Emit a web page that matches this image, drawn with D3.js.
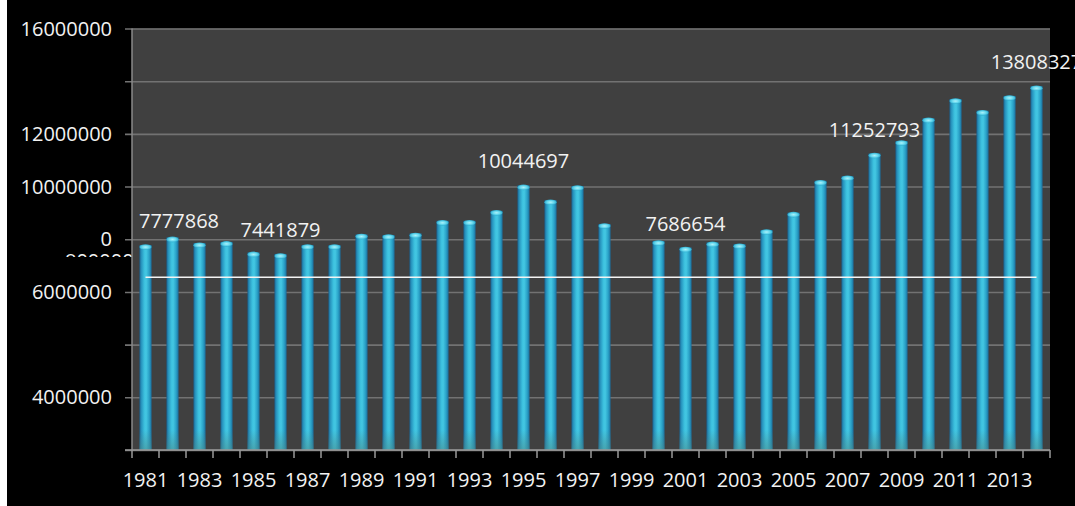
<html>
	<head>
		<script src="https://d3js.org/d3.v7.min.js"></script>
		<style>
			body { margin: 0; background: #000; }
			svg { display: block; }
		</style>
	</head>
	<body>
		<svg width="1075" height="506"></svg>
		<script>

		// categories and values (1999 has no bar)
		var years = [1981, 1982, 1983, 1984, 1985, 1986, 1987, 1988, 1989, 1990,
			1991, 1992, 1993, 1994, 1995, 1996, 1997, 1998, 1999, 2000,
			2001, 2002, 2003, 2004, 2005, 2006, 2007, 2008, 2009, 2010,
			2011, 2012, 2013, 2014];
		var values = [7777868, 8070000, 7850000, 7900000, 7500000, 7441879, 7780000, 7780000, 8180000, 8160000,
			8220000, 8700000, 8700000, 9080000, 10044697, 9480000, 10020000, 8580000, null, 7930000,
			7686654, 7880000, 7810000, 8350000, 9010000, 10220000, 10390000, 11252793, 11730000, 12590000,
			13320000, 12880000, 13440000, 13808327];
		var labelYears = [1981, 1986, 1995, 2001, 2008, 2014];
		var refLineValue = 6560000;
		var yGridValues = [0, 2000000, 4000000, 6000000, 8000000, 10000000, 12000000, 14000000, 16000000];
		var yTickValues = [16000000, 12000000, 10000000, 8000000, 6000000, 2000000];
		var yTickLabels = ["16000000", "12000000", "10000000", "0", "6000000", "4000000"];
		var xLabelYears = [1981, 1983, 1985, 1987, 1989, 1991, 1993, 1995, 1997, 1999,
			2001, 2003, 2005, 2007, 2009, 2011, 2013];

		var data = years.map(function(y, i) { return {year: y, value: values[i]}; });

		var svg = d3.select("svg"),
			margin = {top: 28.5, left: 132, bottom: 56, right: 25},
			width = +svg.attr("width") - margin.left - margin.right,
			height = +svg.attr("height") - margin.top - margin.bottom,
			font = "'Open Sans', 'Noto Sans', sans-serif";

		// white strip at the very left of the screenshot
		svg.append("rect").attr("x", 0).attr("y", 0).attr("width", 7).attr("height", 506).attr("fill", "#fff");

		var defs = svg.append("defs");
		var body = defs.append("linearGradient").attr("id", "cyl").attr("x1", 0).attr("x2", 1).attr("y1", 0).attr("y2", 0);
		[["0%", "#1a5f8c"], ["14%", "#2690bb"], ["40%", "#3cc0de"], ["55%", "#44c8e3"], ["80%", "#2aa2c8"], ["100%", "#1b6d9c"]]
			.forEach(function(s) { body.append("stop").attr("offset", s[0]).attr("stop-color", s[1]); });
		var cap = defs.append("radialGradient").attr("id", "cap");
		[["0%", "#aef2fb"], ["60%", "#62d6ec"], ["100%", "#2ea9cc"]]
			.forEach(function(s) { cap.append("stop").attr("offset", s[0]).attr("stop-color", s[1]); });
		var foot = defs.append("linearGradient").attr("id", "foot").attr("x1", 0).attr("x2", 0).attr("y1", 0).attr("y2", 1);
		foot.append("stop").attr("offset", "0%").attr("stop-color", "#4a7f7f").attr("stop-opacity", 0);
		foot.append("stop").attr("offset", "100%").attr("stop-color", "#4a8a88").attr("stop-opacity", 0.55);
		defs.append("clipPath").attr("id", "hidden8").append("rect")
			.attr("x", 0).attr("y", 0).attr("width", 140).attr("height", 257);

		var x = d3.scaleBand().domain(years).range([0, width]).paddingInner(0.55).paddingOuter(0.275);
		var slot = d3.scaleBand().domain(years).range([0, width]).padding(0);
		var y = d3.scaleLinear().domain([0, 16000000]).range([height, 0]);

		// the half hidden "8000000" label behind the plot area
		svg.append("text")
			.attr("clip-path", "url(#hidden8)")
			.attr("x", 65).attr("y", margin.top + y(8000000) + 29)
			.attr("fill", "#f2f2f2").style("font-family", font).style("font-size", "20px")
			.text("8000000");

		var g = svg.append("g").attr("transform", "translate(" + margin.left + "," + margin.top + ")");

		g.append("rect").attr("width", width).attr("height", height).attr("fill", "#404040");

		// gridlines + left ticks
		var yAxis = g.append("g")
			.call(d3.axisLeft(y).tickValues(yGridValues).tickSize(-width - 7).tickSizeOuter(0).tickFormat(""));
		yAxis.select(".domain").remove();
		yAxis.selectAll(".tick line").attr("stroke", "#727272").attr("stroke-width", 1.6).attr("transform", "translate(-7,0)");

		g.selectAll(".ylab")
			.data(yTickValues)
			.enter().append("text")
			.attr("class", "ylab")
			.attr("x", -20)
			.attr("y", function(d) { return y(d); })
			.attr("dy", "0.35em")
			.attr("text-anchor", "end")
			.attr("fill", "#f2f2f2")
			.style("font-family", font).style("font-size", "20px")
			.text(function(d, i) { return yTickLabels[i]; });

		g.append("line").attr("x1", 0).attr("x2", 0).attr("y1", 0).attr("y2", height)
			.attr("stroke", "#8a8a8a").attr("stroke-width", 1.5);

		// bars
		var bars = g.selectAll(".bar")
			.data(data.filter(function(d) { return d.value != null; }))
			.enter().append("g").attr("class", "bar");

		bars.append("rect")
			.attr("x", function(d) { return x(d.year); })
			.attr("y", function(d) { return y(d.value); })
			.attr("width", x.bandwidth())
			.attr("height", function(d) { return height - y(d.value); })
			.attr("fill", "url(#cyl)");

		bars.append("rect")
			.attr("x", function(d) { return x(d.year); })
			.attr("y", height - 20)
			.attr("width", x.bandwidth())
			.attr("height", 20)
			.attr("fill", "url(#foot)");

		bars.append("ellipse")
			.attr("cx", function(d) { return x(d.year) + x.bandwidth() / 2; })
			.attr("cy", function(d) { return y(d.value) + 2; })
			.attr("rx", x.bandwidth() / 2)
			.attr("ry", 2.8)
			.attr("fill", "url(#cap)");

		// white reference line
		g.append("line")
			.attr("x1", x(years[0]) + x.bandwidth() / 2)
			.attr("x2", x(years[years.length - 1]) + x.bandwidth() / 2)
			.attr("y1", y(refLineValue)).attr("y2", y(refLineValue))
			.attr("stroke", "#f4f4f4").attr("stroke-width", 1.5);

		// x axis
		g.append("line").attr("x1", -7).attr("x2", width).attr("y1", height).attr("y2", height)
			.attr("stroke", "#9a9a9a").attr("stroke-width", 1.5);
		g.selectAll(".xtick")
			.data(years.concat(["end"]))
			.enter().append("line")
			.attr("x1", function(d) { return d === "end" ? width : slot(d); })
			.attr("x2", function(d) { return d === "end" ? width : slot(d); })
			.attr("y1", height).attr("y2", height + 8)
			.attr("stroke", "#9a9a9a").attr("stroke-width", 1.5);
		g.selectAll(".xlab")
			.data(xLabelYears)
			.enter().append("text")
			.attr("x", function(d) { return slot(d) + slot.bandwidth() / 2; })
			.attr("y", height + 37)
			.attr("text-anchor", "middle")
			.attr("fill", "#f2f2f2")
			.style("font-family", font).style("font-size", "20px")
			.text(function(d) { return d; });

		// data labels
		var labelData = data.filter(function(d) { return labelYears.indexOf(d.year) >= 0; });
		g.selectAll(".dlab")
			.data(labelData)
			.enter().append("text")
			.attr("class", "dlab")
			.attr("y", function(d) { return y(d.value) - 17; })
			.attr("text-anchor", "middle")
			.attr("fill", "#f2f2f2")
			.style("font-family", font).style("font-size", "20px")
			.text(function(d) { return d.value; })
			.attr("x", function(d) {
				var half = this.getComputedTextLength() / 2;
				return Math.max(x(d.year) + x.bandwidth() / 2, half + 7);
			});
		</script>
	</body>
</html>
